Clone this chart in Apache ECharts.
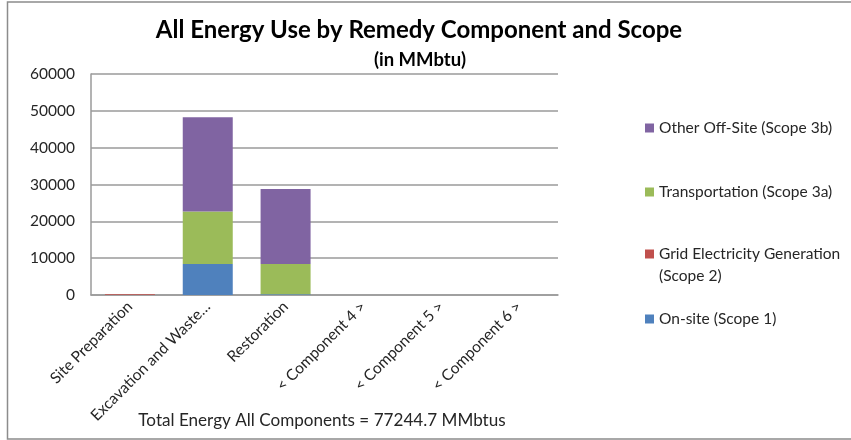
<!DOCTYPE html>
<html>
<head>
<meta charset="utf-8">
<script src="https://cdn.jsdelivr.net/npm/echarts@6/dist/echarts.min.js"></script>
<style>
  html, body { margin: 0; padding: 0; background: #fff; }
  #chart { width: 851px; height: 440px; }
</style>
</head>
<body>
<div id="chart"></div>
<script>
// Remedy components along the x axis
const categories = [
  'Site Preparation',
  'Excavation and Waste\u2026',
  'Restoration',
  '< Component 4 >',
  '< Component 5 >',
  '< Component 6 >'
];

// Energy use per scope (MMbtu) for each component
const onSite = [0, 8400, 200, 0, 0, 0];
const gridElectricity = [195, 0, 0, 0, 0, 0];
const transportation = [0, 14300, 8200, 0, 0, 0];
const otherOffSite = [0, 25550, 20400, 0, 0, 0];

const yTicks = { min: 0, max: 60000, interval: 10000 };
const totalEnergy = '77244.7';

const FONT = 'Lato';
const TEXT = '#262626';

const seriesDefs = [
  { name: 'On-site (Scope 1)', data: onSite, color: '#4F81BD' },
  { name: 'Grid Electricity Generation (Scope 2)', data: gridElectricity, color: '#C0504D' },
  { name: 'Transportation (Scope 3a)', data: transportation, color: '#9BBB59' },
  { name: 'Other Off-Site (Scope 3b)', data: otherOffSite, color: '#8064A2' }
];

// one legend block per scope so each entry sits at its own height;
// the Scope 2 entry wraps onto two lines with the swatch beside the first line
const legendTops = {
  'Other Off-Site (Scope 3b)': 117,
  'Transportation (Scope 3a)': 181,
  'Grid Electricity Generation (Scope 2)': 221,
  'On-site (Scope 1)': 308
};
const legends = Object.keys(legendTops).map(function (name) {
  const wrapped = name === 'Grid Electricity Generation (Scope 2)';
  return {
    data: [name],
    left: 645,
    top: legendTops[name],
    padding: 0,
    orient: 'vertical',
    icon: 'rect',
    itemWidth: 9,
    itemHeight: 9,
    itemGap: 0,
    selectedMode: false,
    formatter: wrapped
      ? function () { return '{e| }\n{t|Grid Electricity Generation}\n{t|(Scope 2)}'; }
      : '{name}',
    textStyle: {
      fontFamily: FONT,
      fontSize: 15.5,
      color: TEXT,
      lineHeight: 22,
      rich: {
        e: { fontSize: 15.5, lineHeight: 22 },
        t: { fontFamily: FONT, fontSize: 15.5, lineHeight: 22, color: TEXT }
      }
    }
  };
});

const chart = echarts.init(document.getElementById('chart'), null, { renderer: 'canvas' });
chart.setOption({
  animation: false,
  backgroundColor: '#ffffff',
  title: [
    {
      text: 'All Energy Use by Remedy Component and Scope',
      left: 419, textAlign: 'center', top: 18, padding: 0,
      textStyle: { fontFamily: FONT, fontWeight: 'bold', fontSize: 24, color: '#000' }
    },
    {
      text: '(in MMbtu)',
      left: 420, textAlign: 'center', top: 51, padding: 0,
      textStyle: { fontFamily: FONT, fontWeight: 'bold', fontSize: 18.5, color: '#000' }
    },
    {
      text: 'Total Energy All Components = ' + totalEnergy + ' MMbtus',
      left: 322, textAlign: 'center', top: 412, padding: 0,
      textStyle: { fontFamily: FONT, fontWeight: 'normal', fontSize: 17.1, color: TEXT }
    }
  ],
  legend: legends,
  graphic: [
    {
      type: 'rect',
      shape: { x: 7.5, y: 2, width: 900, height: 437 },
      style: { fill: 'none', stroke: '#8c8c8c', lineWidth: 1.5 },
      silent: true
    }
  ],
  grid: { left: 91, right: 293, top: 74, bottom: 145, containLabel: false },
  xAxis: {
    type: 'category',
    data: categories,
    axisLine: { show: true, lineStyle: { color: '#9a9a9a', width: 1.5 } },
    axisTick: { show: false },
    axisLabel: {
      rotate: 45,
      interval: 0,
      margin: 9,
      fontFamily: FONT,
      fontSize: 15.5,
      color: TEXT
    }
  },
  yAxis: {
    type: 'value',
    min: yTicks.min,
    max: yTicks.max,
    interval: yTicks.interval,
    axisLine: { show: true, lineStyle: { color: '#9a9a9a', width: 1.5 } },
    axisTick: { show: false },
    splitLine: { show: true, lineStyle: { color: '#9a9a9a', width: 1.5 } },
    axisLabel: {
      margin: 16, fontFamily: FONT, fontSize: 15.5, color: TEXT,
      formatter: function (v) { return String(v); }
    }
  },
  series: seriesDefs.map(function (s) {
    return {
      name: s.name,
      type: 'bar',
      stack: 'energy',
      data: s.data,
      barWidth: 50,
      itemStyle: { color: s.color },
      emphasis: { disabled: true }
    };
  })
});
</script>
</body>
</html>
